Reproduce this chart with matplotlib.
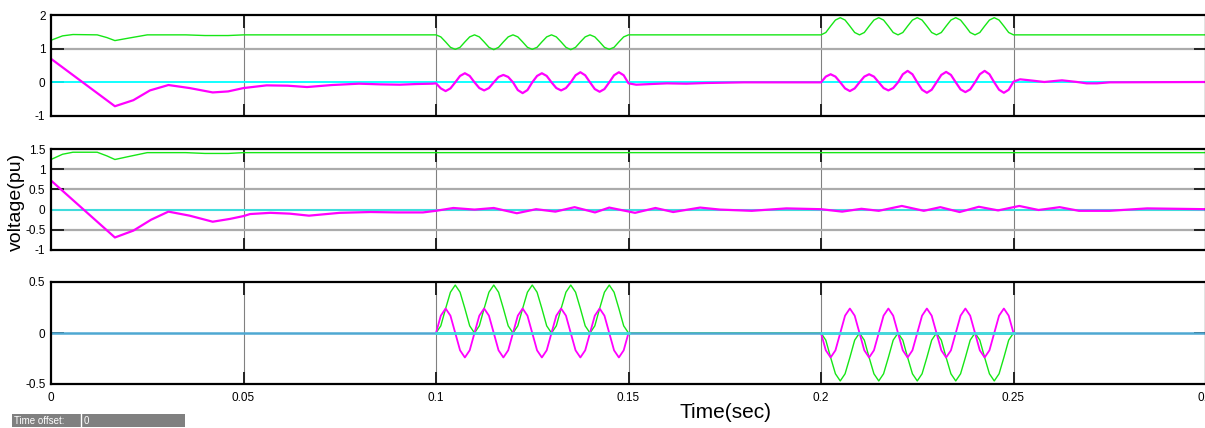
import numpy as np
import matplotlib
matplotlib.use("Agg")
import matplotlib.pyplot as plt
from matplotlib.patches import Rectangle
from matplotlib.lines import Line2D

plt.rcParams['font.family'] = ['Liberation Sans', 'DejaVu Sans']

# ---------------- axes / ticks ----------------
X_TICKS = [0, 0.05, 0.1, 0.15, 0.2, 0.25, 0.3]
X_TICK_LABELS = ['0', '0.05', '0.1', '0.15', '0.2', '0.25', '0.3']
TOP_YTICKS = [-1, 0, 1, 2]
TOP_YLABELS = ['-1', '0', '1', '2']
MID_YTICKS = [-1, -0.5, 0, 0.5, 1, 1.5]
MID_YLABELS = ['-1', '-0.5', '0', '0.5', '1', '1.5']
BOT_YTICKS = [-0.5, 0, 0.5]
BOT_YLABELS = ['-0.5', '0', '0.5']

# sample times inside the two disturbance windows (eighth-cycle sampling)
W1_T = np.linspace(0.1, 0.15, 41)
W2_T = np.linspace(0.2, 0.25, 41)

# ---------------- top panel ----------------
TOP_GREEN_T0 = [0, 0.003, 0.0057, 0.012, 0.0145, 0.0166, 0.02, 0.025, 0.035, 0.04, 0.046, 0.05, 0.09]
TOP_GREEN_V0 = [1.25, 1.38, 1.42, 1.41, 1.33, 1.24, 1.31, 1.41, 1.41, 1.39, 1.39, 1.41, 1.41]
TOP_GREEN_W1 = [1.41, 1.35, 1.20, 1.04, 0.98, 1.04, 1.20, 1.35,
                1.41, 1.35, 1.20, 1.04, 0.97, 1.04, 1.20, 1.35,
                1.41, 1.35, 1.20, 1.04, 0.98, 1.04, 1.20, 1.35,
                1.41, 1.35, 1.20, 1.04, 0.97, 1.04, 1.20, 1.35,
                1.41, 1.35, 1.20, 1.04, 0.98, 1.04, 1.20, 1.35,
                1.41]
TOP_GREEN_W2 = [1.41, 1.48, 1.67, 1.85, 1.92, 1.85, 1.67, 1.48,
                1.41, 1.48, 1.67, 1.85, 1.92, 1.85, 1.67, 1.48,
                1.41, 1.48, 1.67, 1.85, 1.92, 1.85, 1.67, 1.48,
                1.41, 1.48, 1.67, 1.85, 1.92, 1.85, 1.67, 1.48,
                1.41, 1.48, 1.67, 1.85, 1.92, 1.85, 1.67, 1.48,
                1.41]
TOP_GREEN_T_END = [0.3]
TOP_GREEN_V_END = [1.41]

TOP_MAG_T0 = [0, 0.0166, 0.0214, 0.0257, 0.0305, 0.036, 0.042, 0.046, 0.05, 0.056,
              0.0615, 0.0665, 0.073, 0.08, 0.0855, 0.0906, 0.095, 0.099]
TOP_MAG_V0 = [0.70, -0.71, -0.53, -0.24, -0.08, -0.17, -0.30, -0.27, -0.17, -0.09,
              -0.10, -0.14, -0.08, -0.04, -0.06, -0.07, -0.05, -0.04]
TOP_MAG_W1 = [-0.03, -0.18, -0.26, -0.18, 0.00, 0.19, 0.27, 0.19,
              0.00, -0.17, -0.24, -0.17, 0.00, 0.16, 0.22, 0.16,
              0.00, -0.23, -0.32, -0.23, 0.00, 0.19, 0.27, 0.19,
              0.00, -0.17, -0.24, -0.17, 0.00, 0.21, 0.30, 0.21,
              0.00, -0.20, -0.28, -0.20, 0.00, 0.21, 0.30, 0.21,
              -0.03]
TOP_MAG_T1 = [0.152, 0.156, 0.16, 0.165, 0.17, 0.18, 0.19]
TOP_MAG_V1 = [-0.07, -0.05, -0.03, -0.04, -0.02, 0.00, 0.00]
TOP_MAG_W2 = [0.00, 0.17, 0.24, 0.17, 0.00, -0.18, -0.26, -0.18,
              0.00, 0.17, 0.24, 0.17, 0.00, -0.17, -0.24, -0.17,
              0.00, 0.24, 0.34, 0.24, 0.00, -0.22, -0.31, -0.22,
              0.00, 0.22, 0.31, 0.22, 0.00, -0.21, -0.29, -0.21,
              0.00, 0.24, 0.34, 0.24, 0.00, -0.22, -0.31, -0.22,
              0.02]
TOP_MAG_T2 = [0.2517, 0.255, 0.258, 0.2626, 0.2665, 0.269, 0.2717, 0.275, 0.3]
TOP_MAG_V2 = [0.09, 0.05, 0.01, 0.06, 0.01, -0.03, -0.03, 0.00, 0.01]

# ---------------- middle panel ----------------
MID_GREEN_T = [0, 0.003, 0.0057, 0.012, 0.0145, 0.0166, 0.02, 0.025, 0.035, 0.04, 0.046, 0.05, 0.3]
MID_GREEN_V = [1.24, 1.37, 1.42, 1.42, 1.33, 1.24, 1.31, 1.41, 1.41, 1.39, 1.39, 1.41, 1.41]

MID_MAG_T = [0, 0.0166, 0.0214, 0.026, 0.0305, 0.036, 0.042, 0.0465, 0.05, 0.0517,
             0.057, 0.062, 0.067, 0.075, 0.083, 0.09, 0.0966, 0.1, 0.1045, 0.11,
             0.115, 0.121, 0.126, 0.131, 0.136, 0.1413, 0.145, 0.1517, 0.157, 0.1616,
             0.1686, 0.1738, 0.182, 0.191, 0.2, 0.2055, 0.2105, 0.215, 0.221, 0.2267,
             0.231, 0.236, 0.241, 0.246, 0.2515, 0.2565, 0.262, 0.267, 0.275, 0.2847,
             0.3]
MID_MAG_V = [0.72, -0.69, -0.52, -0.25, -0.05, -0.15, -0.30, -0.23, -0.16, -0.11,
             -0.08, -0.10, -0.15, -0.08, -0.06, -0.07, -0.07, -0.03, 0.04, 0.00,
             0.04, -0.09, 0.01, -0.05, 0.06, -0.07, 0.05, -0.08, 0.04, -0.06,
             0.05, 0.00, -0.03, 0.03, 0.01, -0.05, 0.02, -0.03, 0.09, -0.03,
             0.06, -0.06, 0.07, -0.02, 0.09, -0.01, 0.06, -0.03, -0.03, 0.03,
             0.01]

# ---------------- bottom panel ----------------
BOT_GREEN_W1 = [0.00, 0.07, 0.24, 0.40, 0.47, 0.40, 0.24, 0.07,
                0.00, 0.07, 0.24, 0.40, 0.47, 0.40, 0.24, 0.07,
                0.00, 0.07, 0.24, 0.40, 0.47, 0.40, 0.24, 0.07,
                0.00, 0.07, 0.24, 0.40, 0.47, 0.40, 0.24, 0.07,
                0.00, 0.07, 0.24, 0.40, 0.47, 0.40, 0.24, 0.07,
                0.00]
BOT_MAG_W1 = [0.00, 0.17, 0.24, 0.17, 0.00, -0.17, -0.24, -0.17,
              0.00, 0.17, 0.24, 0.17, 0.00, -0.17, -0.24, -0.17,
              0.00, 0.17, 0.24, 0.17, 0.00, -0.17, -0.24, -0.17,
              0.00, 0.17, 0.24, 0.17, 0.00, -0.17, -0.24, -0.17,
              0.00, 0.17, 0.24, 0.17, 0.00, -0.17, -0.24, -0.17,
              0.00]
BOT_GREEN_W2 = [0.00, -0.07, -0.24, -0.40, -0.47, -0.40, -0.24, -0.07,
                0.00, -0.07, -0.24, -0.40, -0.47, -0.40, -0.24, -0.07,
                0.00, -0.07, -0.24, -0.40, -0.47, -0.40, -0.24, -0.07,
                0.00, -0.07, -0.24, -0.40, -0.47, -0.40, -0.24, -0.07,
                0.00, -0.07, -0.24, -0.40, -0.47, -0.40, -0.24, -0.07,
                0.00]
BOT_MAG_W2 = [0.00, -0.17, -0.24, -0.17, 0.00, 0.17, 0.24, 0.17,
              0.00, -0.17, -0.24, -0.17, 0.00, 0.17, 0.24, 0.17,
              0.00, -0.17, -0.24, -0.17, 0.00, 0.17, 0.24, 0.17,
              0.00, -0.17, -0.24, -0.17, 0.00, 0.17, 0.24, 0.17,
              0.00, -0.17, -0.24, -0.17, 0.00, 0.17, 0.24, 0.17,
              0.00]
ZERO_T = [0, 0.3]
ZERO_V = [0, 0]

GREEN = '#16E616'
MAGENTA = '#FF00FF'
CYAN = '#00FFFF'
TURQ = '#40DCDC'
BLUE = '#4EA8D2'

W = 1205.0
H = 428.0
fig = plt.figure(figsize=(12.05, 4.28), dpi=100)


def make_ax(top_px, bot_px):
    return fig.add_axes([51 / W, (H - bot_px) / H, 1155 / W, (bot_px - top_px) / H])


def style(ax, yticks, ylabels, ylim, hgrid, show_x):
    ax.set_xlim(0, 0.3)
    ax.set_ylim(*ylim)
    ax.set_xticks(X_TICKS)
    ax.set_yticks(yticks)
    ax.set_yticklabels(ylabels)
    if show_x:
        ax.set_xticklabels(X_TICK_LABELS)
    else:
        ax.set_xticklabels([])
    for xv in X_TICKS[1:-1]:
        ax.axvline(xv, color='#808080', lw=0.8, zorder=0.5)
    for yv in hgrid:
        ax.axhline(yv, color='#ABABAB', lw=1.6, zorder=0.5)
    ax.tick_params(direction='in', length=9, width=1.4, color='#222222',
                   top=True, right=True, labelsize=8.5, pad=4)
    ax.tick_params(axis='x', pad=6)
    for s in ax.spines.values():
        s.set_linewidth(1.6)
        s.set_color('black')
        s.set_zorder(5)


# top
ax1 = make_ax(15, 116)
style(ax1, TOP_YTICKS, TOP_YLABELS, (-1, 2), [1], False)
ax1.plot(ZERO_T, ZERO_V, color=CYAN, lw=1.3, zorder=2)
ax1.plot(np.concatenate([TOP_GREEN_T0, W1_T, W2_T, TOP_GREEN_T_END]),
         np.concatenate([TOP_GREEN_V0, TOP_GREEN_W1, TOP_GREEN_W2, TOP_GREEN_V_END]),
         color=GREEN, lw=1.0, zorder=3)
ax1.plot(np.concatenate([TOP_MAG_T0, W1_T, TOP_MAG_T1, W2_T, TOP_MAG_T2]),
         np.concatenate([TOP_MAG_V0, TOP_MAG_W1, TOP_MAG_V1, TOP_MAG_W2, TOP_MAG_V2]),
         color=MAGENTA, lw=1.6, zorder=3)

# middle
ax2 = make_ax(149, 250)
style(ax2, MID_YTICKS, MID_YLABELS, (-1, 1.5), [1, 0.5, -0.5], False)
ax2.plot(ZERO_T, ZERO_V, color=TURQ, lw=1.5, zorder=2)
ax2.plot(MID_GREEN_T, MID_GREEN_V, color=GREEN, lw=1.0, zorder=3)
ax2.plot(MID_MAG_T, MID_MAG_V, color=MAGENTA, lw=1.6, zorder=3)

# bottom
ax3 = make_ax(282, 384)
style(ax3, BOT_YTICKS, BOT_YLABELS, (-0.5, 0.5), [], True)
ax3.plot(np.concatenate([W1_T, W2_T]), np.concatenate([BOT_GREEN_W1, BOT_GREEN_W2]),
         color=GREEN, lw=1.0, zorder=3)
ax3.plot(W1_T, BOT_MAG_W1, color=MAGENTA, lw=1.3, zorder=3)
ax3.plot(W2_T, BOT_MAG_W2, color=MAGENTA, lw=1.3, zorder=3)
ax3.plot(ZERO_T, ZERO_V, color=BLUE, lw=1.8, zorder=4)
ax3.plot([W1_T[0], W1_T[-1]], [0, 0], color=TURQ, lw=1.8, zorder=4)
ax3.plot([W2_T[0], W2_T[-1]], [0, 0], color=TURQ, lw=1.8, zorder=4)

# labels
fig.text(16 / W, (H - 202) / H, 'voltage(pu)', rotation=90, ha='center', va='center',
         fontsize=14)
fig.text(725 / W, (H - 413) / H, 'Time(sec)', ha='center', va='center', fontsize=15)

# time offset box
fig.patches.append(Rectangle((12 / W, 1 / H), 173 / W, 13 / H, transform=fig.transFigure,
                             facecolor='#808080', edgecolor='none'))
fig.lines.append(Line2D([81 / W, 81 / W], [1 / H, 14 / H], transform=fig.transFigure,
                        color='white', lw=1))
fig.text(14 / W, 7.5 / H, 'Time offset:', color='white', fontsize=7, ha='left', va='center')
fig.text(84 / W, 7.5 / H, '0', color='white', fontsize=7, ha='left', va='center')

fig.savefig('out.png', dpi=100)
